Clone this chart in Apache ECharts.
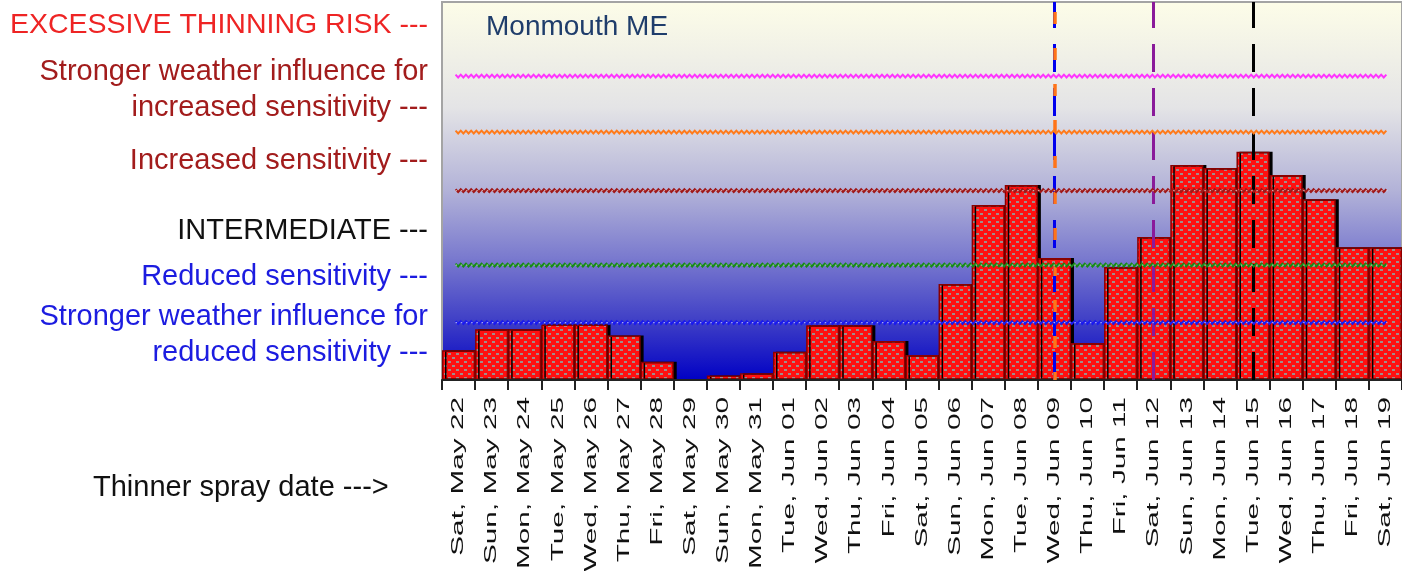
<!DOCTYPE html>
<html>
<head>
<meta charset="utf-8">
<title>Monmouth ME</title>
<script src="https://cdn.jsdelivr.net/npm/echarts@6/dist/echarts.min.js"></script>
<style>
  html, body { margin: 0; padding: 0; background: #fff; }
  #chart { width: 1402px; height: 571px; }
</style>
</head>
<body>
<div id="chart"></div>
<script>
// thinner spray dates and the thinning-risk index (0 = bottom, 100 = top of plot)
const sprayDates = [
  'Sat, May 22', 'Sun, May 23', 'Mon, May 24', 'Tue, May 25', 'Wed, May 26', 'Thu, May 27',
  'Fri, May 28', 'Sat, May 29', 'Sun, May 30', 'Mon, May 31', 'Tue, Jun 01', 'Wed, Jun 02',
  'Thu, Jun 03', 'Fri, Jun 04', 'Sat, Jun 05', 'Sun, Jun 06', 'Mon, Jun 07', 'Tue, Jun 08',
  'Wed, Jun 09', 'Thu, Jun 10', 'Fri, Jun 11', 'Sat, Jun 12', 'Sun, Jun 13', 'Mon, Jun 14',
  'Tue, Jun 15', 'Wed, Jun 16', 'Thu, Jun 17', 'Fri, Jun 18', 'Sat, Jun 19'
];
const thinningRisk = [
  7.9, 13.4, 13.4, 14.7, 14.7, 11.8, 4.8, 0, 1.2, 1.8, 7.5, 14.5,
  14.5, 10.3, 6.6, 25.4, 46.3, 51.6, 32.3, 9.8, 29.9, 37.8, 56.9, 56.1,
  60.4, 54.2, 47.8, 35.1, 35.1
];
// sensitivity thresholds, low to high
const thresholdLevels = [15.2, 30.4, 50.1, 65.6, 80.4];
const markerDates = ['Wed, Jun 09', 'Sat, Jun 12', 'Tue, Jun 15'];

const sideLabels = [
  'EXCESSIVE THINNING RISK ---',
  'Stronger weather influence for\nincreased sensitivity ---',
  'Increased sensitivity ---',
  'INTERMEDIATE ---',
  'Reduced sensitivity ---',
  'Stronger weather influence for\nreduced sensitivity ---'
];
const xAxisName = 'Thinner spray date --->';
const stationName = 'Monmouth ME';

const FONT = '"Liberation Sans", Arial, sans-serif';
const thresholdColors = ['#1a1aee', '#168a16', '#a01818', '#ff7a1a', '#ff33ff'];
const thresholdDotted = [true, true, true, false, false];
const sideColors = ['#ee2424', '#a21c1c', '#a21c1c', '#111111', '#1c1ce0', '#1c1ce0'];
const sideSizes = [28.5, 29, 29, 29, 29, 29];
const sideY = [25, 90, 161, 231, 277, 335];

// red fill with small staggered grey dashes
function barPattern() {
  const c = document.createElement('canvas');
  c.width = 8;
  c.height = 8;
  const ctx = c.getContext('2d');
  ctx.fillStyle = '#ff1010';
  ctx.fillRect(0, 0, 8, 8);
  ctx.fillStyle = '#a08c8c';
  ctx.fillRect(0, 1, 3, 2);
  ctx.fillRect(4, 5, 3, 2);
  return c;
}

const chart = echarts.init(document.getElementById('chart'));

// wavy threshold line from first to last date
function renderThreshold(params, api) {
  const level = api.value(1);
  const start = api.coord([0, level]);
  const end = api.coord([sprayDates.length - 1, level]);
  const points = [];
  let up = true;
  for (let x = start[0] - 3; x < end[0] + 2; x += 2.6) {
    points.push([x, start[1] + (up ? -1.4 : 1.4)]);
    up = !up;
  }
  const children = [{
    type: 'polyline',
    shape: { points },
    style: { stroke: thresholdColors[params.dataIndex], lineWidth: 2, fill: null }
  }];
  if (thresholdDotted[params.dataIndex]) {
    children.push({
      type: 'line',
      shape: { x1: start[0] - 3, y1: start[1], x2: end[0] + 2, y2: end[1] },
      style: { stroke: '#ffffff', lineWidth: 1.2, lineDash: [1.5, 3.7], opacity: 0.6 }
    });
  }
  return { type: 'group', children };
}

chart.setOption({
  animation: false,
  title: {
    text: stationName,
    left: 481,
    top: 8,
    textStyle: { fontFamily: FONT, fontSize: 28, fontWeight: 'normal', color: '#1f3d6b' }
  },
  grid: {
    left: 442,
    top: 2,
    width: 965,
    bottom: 191,
    show: true,
    borderColor: '#a4a4a4',
    borderWidth: 2,
    backgroundColor: new echarts.graphic.LinearGradient(0, 0, 0, 1, [
      { offset: 0, color: '#fdfde8' },
      { offset: 0.28, color: '#e4e4e6' },
      { offset: 0.5, color: '#b2b2d8' },
      { offset: 0.7, color: '#7272cd' },
      { offset: 0.85, color: '#3c3cc6' },
      { offset: 1, color: '#0000c4' }
    ])
  },
  xAxis: {
    type: 'category',
    data: sprayDates,
    z: 4,
    axisLine: { lineStyle: { color: '#222', width: 2 } },
    axisTick: { show: true, interval: 0, length: 10, lineStyle: { color: '#222', width: 2 } },
    axisLabel: { show: false }
  },
  yAxis: {
    type: 'value',
    min: 0,
    max: 100,
    axisLine: { show: false },
    axisTick: { show: false },
    axisLabel: { show: false },
    splitLine: { show: false }
  },
  series: [
    {
      type: 'bar',
      data: thinningRisk,
      barCategoryGap: '0%',
      emphasis: { disabled: true },
      itemStyle: {
        color: { image: barPattern(), repeat: 'repeat' },
        borderColor: '#8a0000',
        borderWidth: 1.5,
        shadowColor: '#000',
        shadowOffsetX: 3,
        shadowOffsetY: 0,
        shadowBlur: 0
      },
      markLine: {
        silent: true,
        symbol: 'none',
        label: { show: false },
        data: [
          { xAxis: markerDates[0], lineStyle: { color: '#0000ee', width: 3, type: [28, 16] } },
          { xAxis: markerDates[0], lineStyle: { color: '#ff7418', width: 3.5, type: [12, 24], dashOffset: 4 } },
          { xAxis: markerDates[1], lineStyle: { color: '#8a1a9a', width: 3, type: [28, 16] } },
          { xAxis: markerDates[2], lineStyle: { color: '#000000', width: 3, type: [28, 16] } }
        ]
      }
    },
    {
      type: 'custom',
      z: 5,
      silent: true,
      renderItem: renderThreshold,
      encode: { x: 0, y: 1 },
      data: thresholdLevels.map(v => [0, v])
    }
  ]
});

// side labels and rotated date labels, placed from the axis scale
const axisY = chart.convertToPixel({ gridIndex: 0 }, [0, 0])[1];
const sideTexts = sideLabels.map((text, i) => ({
  type: 'text',
  x: 428,
  y: sideY[i],
  style: {
    text, fill: sideColors[i], font: sideSizes[i] + 'px ' + FONT, fontSize: sideSizes[i], fontFamily: FONT,
    textAlign: 'right', align: 'right', textVerticalAlign: 'middle', verticalAlign: 'middle', lineHeight: 36
  }
}));
const dateTexts = sprayDates.map((text, i) => ({
  type: 'text',
  x: chart.convertToPixel({ xAxisIndex: 0 }, i),
  y: axisY + 17,
  rotation: Math.PI / 2,
  scaleX: 1.75,
  style: {
    text, fill: '#111', font: '17px ' + FONT, fontSize: 17, fontFamily: FONT,
    textAlign: 'right', align: 'right', textVerticalAlign: 'middle', verticalAlign: 'middle'
  }
}));
chart.setOption({
  graphic: {
    elements: [
      ...sideTexts,
      ...dateTexts,
      {
        type: 'text',
        x: 93,
        y: 488,
        style: {
          text: xAxisName, fill: '#111', font: '29px ' + FONT, fontSize: 29, fontFamily: FONT,
          textAlign: 'left', align: 'left', textVerticalAlign: 'middle', verticalAlign: 'middle'
        }
      }
    ]
  }
});

window.addEventListener('resize', () => chart.resize());
</script>
</body>
</html>
